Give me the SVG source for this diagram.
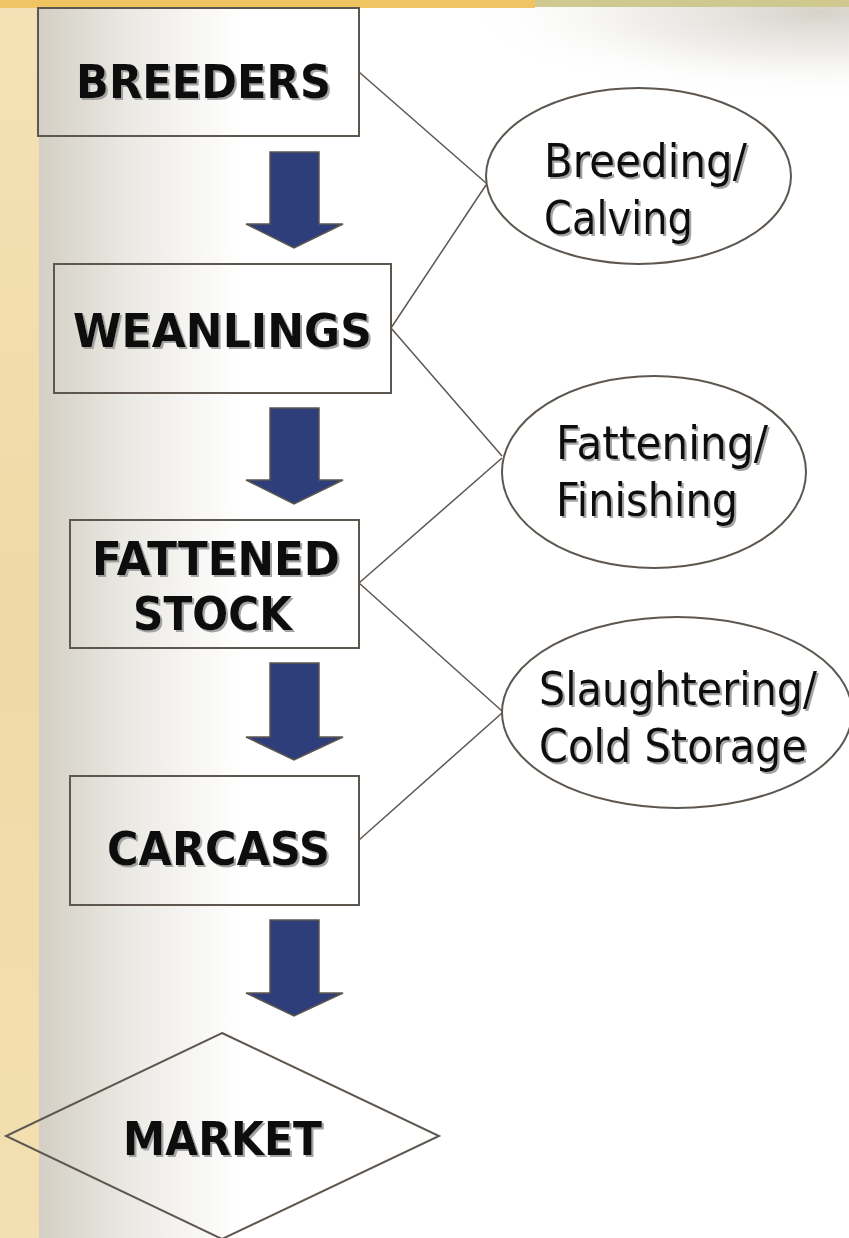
<svg xmlns="http://www.w3.org/2000/svg" width="849" height="1238" viewBox="0 0 849 1238">
<defs>
<linearGradient id="bgH" x1="39" y1="0" x2="240" y2="0" gradientUnits="userSpaceOnUse">
<stop offset="0" stop-color="#d3cfc4"/>
<stop offset="0.45" stop-color="#ebe9e4"/>
<stop offset="1" stop-color="#ffffff"/>
</linearGradient>
<radialGradient id="tr" cx="820" cy="12" r="360" gradientUnits="userSpaceOnUse" gradientTransform="translate(820 12) scale(1 0.24) translate(-820 -12)">
<stop offset="0" stop-color="#d6d2ca"/>
<stop offset="0.5" stop-color="#e9e7e2" stop-opacity="0.7"/>
<stop offset="1" stop-color="#ffffff" stop-opacity="0"/>
</radialGradient>
<linearGradient id="parch" x1="0" y1="0" x2="0" y2="1">
<stop offset="0" stop-color="#f4e2b6"/>
<stop offset="0.5" stop-color="#efd9a6"/>
<stop offset="1" stop-color="#f3e0b2"/>
</linearGradient>
<filter id="sh" x="-5%" y="-20%" width="115%" height="150%">
<feDropShadow dx="2" dy="2" stdDeviation="0.6" flood-color="#9a9a9a" flood-opacity="0.9"/>
</filter>
</defs>
<style>
.box{fill:none;stroke:#5e5750;stroke-width:2}
.ell{fill:#ffffff;stroke:#5e5750;stroke-width:2}
.arr{fill:#2e3e7b;stroke:#5e5750;stroke-width:1.5}
.con{stroke:#5e5750;stroke-width:1.5;fill:none}
.bt{font-family:"DejaVu Sans","Liberation Sans",sans-serif;font-weight:bold;font-size:47px;fill:#0a0a0a;filter:url(#sh)}
.nt{font-family:"DejaVu Sans","Liberation Sans",sans-serif;font-size:46px;fill:#0a0a0a;filter:url(#sh)}
</style>
<!-- background -->
<rect x="0" y="0" width="849" height="1238" fill="url(#parch)"/>
<rect x="39" y="7" width="810" height="1231" fill="url(#bgH)"/>
<rect x="380" y="7" width="469" height="100" fill="url(#tr)"/>
<rect x="0" y="0" width="535" height="8" fill="#f0c363"/>
<rect x="535" y="0" width="314" height="7" fill="#cfc98f"/>

<g id="connectors">
<line class="con" x1="359" y1="72" x2="486" y2="183"/>
<line class="con" x1="391" y1="328" x2="486" y2="185"/>
<line class="con" x1="391" y1="328" x2="502" y2="456"/>
<line class="con" x1="359" y1="583" x2="502" y2="458"/>
<line class="con" x1="359" y1="583" x2="502" y2="711"/>
<line class="con" x1="359" y1="840" x2="502" y2="713"/>
<polygon class="arr" points="270,152 319,152 319,224 343,224 294,248 246,224 270,224"/>
<polygon class="arr" points="270,408 319,408 319,480 343,480 294,504 246,480 270,480"/>
<polygon class="arr" points="270,663 319,663 319,737 343,737 294,760 246,737 270,737"/>
<polygon class="arr" points="270,920 319,920 319,993 343,993 294,1016 246,993 270,993"/>
</g>

<g id="breeders">
<rect class="box" x="38" y="8" width="321" height="128"/>
<text class="bt" x="76" y="98" textLength="255" lengthAdjust="spacingAndGlyphs">BREEDERS</text>
</g>
<g id="weanlings">
<rect class="box" x="54" y="264" width="337" height="129"/>
<text class="bt" x="73" y="347" textLength="299" lengthAdjust="spacingAndGlyphs">WEANLINGS</text>
</g>
<g id="fattened-stock">
<rect class="box" x="70" y="520" width="289" height="128"/>
<text class="bt" x="92" y="575" textLength="248" lengthAdjust="spacingAndGlyphs">FATTENED</text>
<text class="bt" x="133" y="630" textLength="159" lengthAdjust="spacingAndGlyphs">STOCK</text>
</g>
<g id="carcass">
<rect class="box" x="70" y="776" width="289" height="129"/>
<text class="bt" x="107" y="865" textLength="223" lengthAdjust="spacingAndGlyphs">CARCASS</text>
</g>
<g id="market">
<polygon class="box" points="222,1033 439,1136 222,1239 6,1136"/>
<text class="bt" x="123" y="1155" textLength="199" lengthAdjust="spacingAndGlyphs">MARKET</text>
</g>
<g id="breeding-calving">
<ellipse class="ell" cx="638.5" cy="176" rx="152.5" ry="88"/>
<text class="nt" x="544" y="177" textLength="203" lengthAdjust="spacingAndGlyphs">Breeding/</text>
<text class="nt" x="544" y="234" textLength="149" lengthAdjust="spacingAndGlyphs">Calving</text>
</g>
<g id="fattening-finishing">
<ellipse class="ell" cx="654" cy="472" rx="152" ry="96"/>
<text class="nt" x="556" y="459" textLength="212" lengthAdjust="spacingAndGlyphs">Fattening/</text>
<text class="nt" x="556" y="516" textLength="182" lengthAdjust="spacingAndGlyphs">Finishing</text>
</g>
<g id="slaughtering-cold-storage">
<ellipse class="ell" cx="677" cy="712.5" rx="175" ry="95.5"/>
<text class="nt" x="539" y="705" textLength="278" lengthAdjust="spacingAndGlyphs">Slaughtering/</text>
<text class="nt" x="539" y="762" textLength="268" lengthAdjust="spacingAndGlyphs">Cold Storage</text>
</g>
</svg>
